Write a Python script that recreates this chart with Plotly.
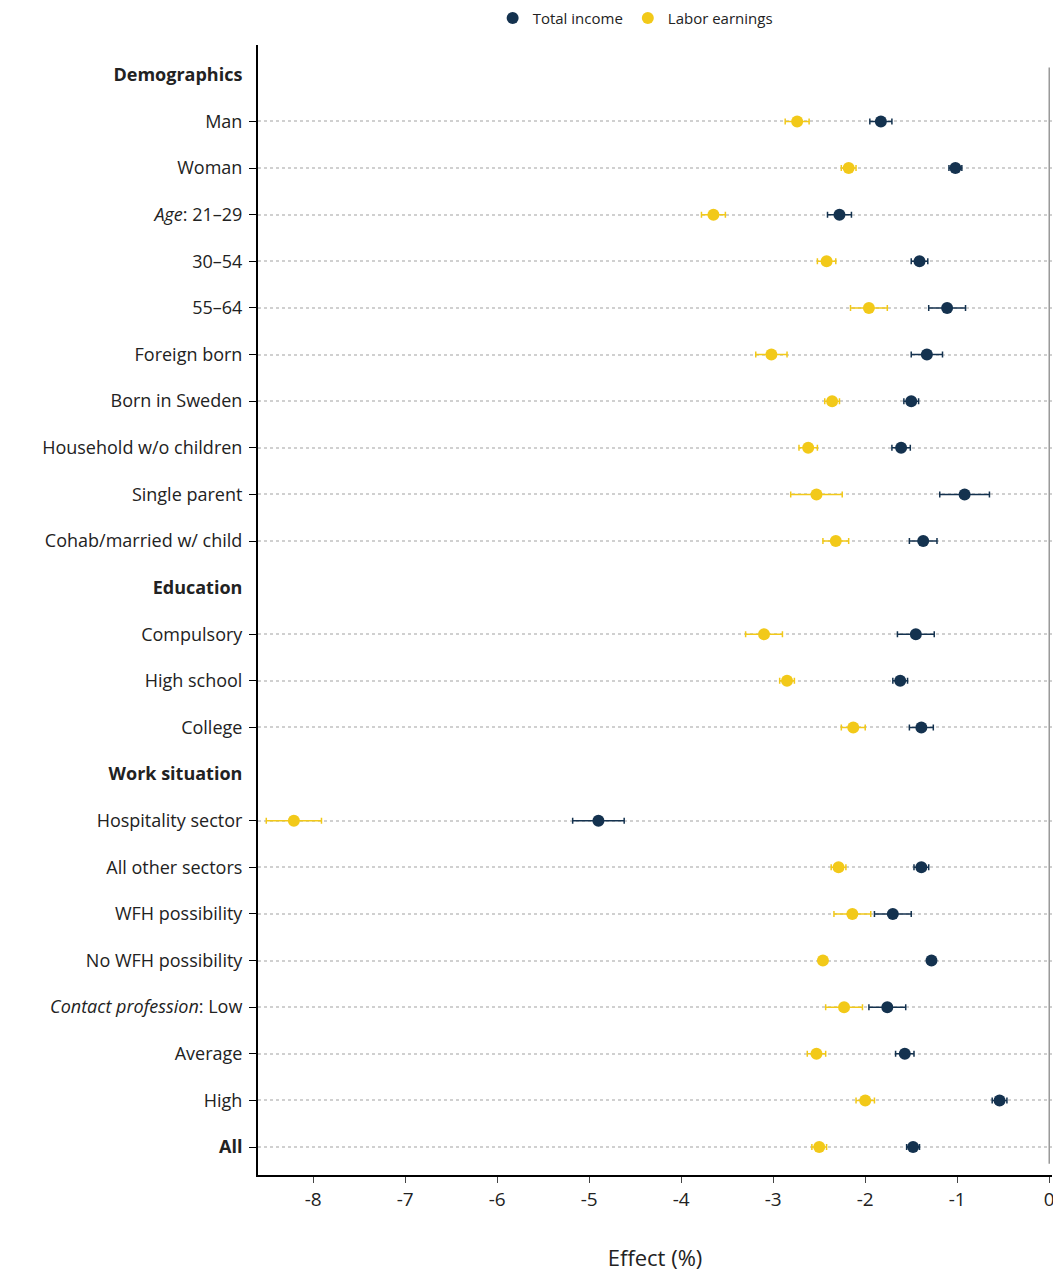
import plotly.graph_objects as go

labels = ["<b>Demographics</b>","Man","Woman","<i>Age</i>: 21–29","30–54","55–64","Foreign born","Born in Sweden",
          "Household w/o children","Single parent","Cohab/married w/ child","<b>Education</b>","Compulsory",
          "High school","College","<b>Work situation</b>","Hospitality sector","All other sectors","WFH possibility",
          "No WFH possibility","<i>Contact profession</i>: Low","Average","High","<b>All</b>"]
headers = [0, 11, 15]
items = [i for i in range(len(labels)) if i not in headers]
total = [-1.83,-1.02,-2.28,-1.41,-1.11,-1.33,-1.50,-1.61,-0.92,-1.37,-1.45,-1.62,-1.39,-4.90,-1.39,-1.70,-1.28,-1.76,-1.57,-0.54,-1.48]
total_err = [0.12,0.07,0.13,0.09,0.2,0.17,0.08,0.1,0.27,0.15,0.2,0.08,0.13,0.28,0.08,0.2,0.03,0.2,0.1,0.08,0.07]
labor = [-2.74,-2.18,-3.65,-2.42,-1.96,-3.02,-2.36,-2.62,-2.53,-2.32,-3.10,-2.85,-2.13,-8.21,-2.29,-2.14,-2.46,-2.23,-2.53,-2.00,-2.50]
labor_err = [0.13,0.08,0.13,0.1,0.2,0.17,0.08,0.1,0.28,0.14,0.2,0.08,0.13,0.3,0.08,0.2,0.04,0.2,0.1,0.1,0.08]
xticks = [-8,-7,-6,-5,-4,-3,-2,-1,0]
xticktext = ["-8","-7","-6","-5","-4","-3","-2","-1","0"]

navy = "#14324f"; gold = "#f2c919"
fig = go.Figure()
fig.add_trace(go.Scatter(x=total, y=items, mode="markers", name="Total income",
    marker=dict(color=navy, size=12),
    error_x=dict(type="data", array=total_err, color=navy, thickness=1.5, width=3)))
fig.add_trace(go.Scatter(x=labor, y=items, mode="markers", name="Labor earnings",
    marker=dict(color=gold, size=12),
    error_x=dict(type="data", array=labor_err, color=gold, thickness=1.5, width=3)))
fig.add_trace(go.Scatter(x=[None], y=[None], yaxis="y2", showlegend=False))
fig.add_vline(x=0, line=dict(color="#999999", width=1.5), y0=0.01, y1=0.98)

font = "Open Sans, sans-serif"
fig.update_layout(
    width=1053, height=1268, plot_bgcolor="white", paper_bgcolor="white",
    margin=dict(l=250, r=9, t=37, b=101, autoexpand=False),
    font=dict(family=font, size=18, color="#222"),
    legend=dict(orientation="h", x=0.475, xanchor="center", yref="container", y=0.992, yanchor="middle",
                font=dict(size=15), itemsizing="constant"),
    xaxis=dict(range=[-8.6, 0.03], tickvals=xticks, ticktext=xticktext, ticks="outside", ticklen=6,
               showline=True, linecolor="black", linewidth=2, showgrid=False, zeroline=False,
               title=dict(text="Effect (%)", standoff=40), tickfont=dict(size=19)),
    yaxis=dict(range=[23.6, -0.64], tickvals=list(range(len(labels))), ticktext=labels,
               ticks="", showline=True, linecolor="black", linewidth=2, showgrid=False,
               zeroline=False, ticklabelstandoff=10),
    yaxis2=dict(overlaying="y", matches="y", side="left", tickvals=items, showticklabels=False,
                ticks="outside", ticklen=8, tickcolor="black", showgrid=True,
                gridcolor="#d0d0d0", griddash="dot", gridwidth=2, showline=False, zeroline=False),
)
fig.write_html("out.html")
